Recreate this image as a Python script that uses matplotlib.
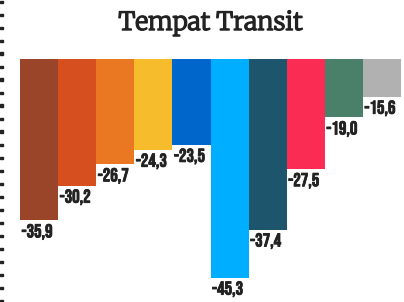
import matplotlib.pyplot as plt
import matplotlib.patheffects as pe

# data
values = [-35.9, -30.2, -26.7, -24.3, -23.5, -45.3, -37.4, -27.5, -19.0, -15.6]
colors = ['#9A452A', '#D64F1E', '#EA7722', '#F7BC2C', '#0066CC',
          '#00AEFF', '#1D566C', '#FB2C53', '#4A7F6A', '#B1B1B1']
title = 'Tempat Transit'
baseline = -9.4

W, H = 404, 302
fig = plt.figure(figsize=(W / 100, H / 100), dpi=100)
fig.patch.set_facecolor('white')

# dotted line at left edge
for yy in range(0, H, 13):
    fig.patches.append(plt.Rectangle((0, 1 - (yy + 3) / H), 2.5 / W, 2.5 / H,
                                     transform=fig.transFigure, color='#222222'))

fig.text(210.5 / W, 1 - 23 / H, title, ha='center', va='center',
         fontsize=18, fontweight='black', family=['Merriweather', 'DejaVu Serif'],
         color='#222222',
         path_effects=[pe.withStroke(linewidth=0.9, foreground='#222222')])

ax = fig.add_axes([20 / W, 0, 381 / W, 243 / H])
x = list(range(len(values)))
ax.bar(x, [v - baseline for v in values], bottom=baseline, width=1.0,
       color=colors, align='edge')
ax.set_xlim(0, len(values))
ax.set_ylim(-49.3, baseline)
ax.axis('off')

for i, v in enumerate(values):
    lab = f'{v:.1f}'.replace('.', ',')
    ax.annotate(lab, (i, v), xytext=(1.5, -3), textcoords='offset pixels',
                ha='left', va='top', fontsize=13.5,
                family=['Bebas Neue', 'DejaVu Sans'], color='#222222',
                path_effects=[pe.withStroke(linewidth=0.6, foreground='#222222')])

fig.savefig('out.png', dpi=100)
